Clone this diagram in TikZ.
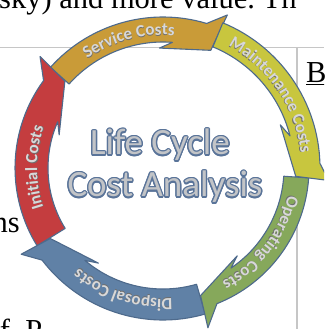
\documentclass[tikz,border=0pt]{standalone}
\usepackage{fontspec}
\setmainfont{Liberation Serif}
\setsansfont{Carlito}
\usetikzlibrary{decorations.text}

\definecolor{servicegold}{HTML}{C99B38}
\definecolor{maintyellow}{HTML}{C8C63E}
\definecolor{opgreen}{HTML}{86A85B}
\definecolor{disposalblue}{HTML}{6081A6}
\definecolor{initialred}{HTML}{C43D3F}
\definecolor{rimblue}{HTML}{4E6A8C}
\definecolor{labelgray}{HTML}{D8D8D8}
\definecolor{labelshade}{HTML}{6E6E6E}
\definecolor{titlegray}{HTML}{C2C4C7}
\definecolor{titleblue}{HTML}{5A7499}
\definecolor{rulegray}{HTML}{C6C6C6}

\newcommand{\labelfont}{\sffamily\bfseries\fontsize{17}{17}\selectfont}

% one curved arrow: colour, tail angle, tip angle, outer radius, inner radius, head corner radius
\newcommand{\costarrow}[6]{%
  \filldraw[costband, fill=#1] (#2:#4)
    arc[start angle=#2, end angle={#3+6}, radius=#4]
    -- (#3:166) -- ({#3+0.7}:#6) -- ({#3+24.5}:{#5-6}) -- ({#3+18.5}:#5)
    arc[start angle={#3+18.5}, end angle=#2, radius=#5] -- cycle;}

% label bent along an arrow, with a soft shade under it: middle angle, baseline radius, text
\newcommand{\costlabel}[3]{%
  \path[decorate, decoration={text along path, text align=center, raise=-0.9pt,
      text={|\labelfont\color{labelshade}|#3}}]
    ({#1+60}:#2) arc[start angle={#1+60}, end angle={#1-60}, radius=#2];
  \path[decorate, decoration={text along path, text align=center,
      text={|\labelfont\color{labelgray}|#3}}]
    ({#1+60}:#2) arc[start angle={#1+60}, end angle={#1-60}, radius=#2];}

\begin{document}
\begin{tikzpicture}[x=1pt, y=1pt,
    costband/.style={draw=rimblue, line width=1.1pt, line join=round},
    titletext/.style={anchor=base, inner sep=0pt, font=\sffamily\fontsize{37}{37}\selectfont},
    pagetext/.style={inner sep=0pt, font=\fontsize{30.5}{30.5}\selectfont}]
    \useasboundingbox (0,0) rectangle (324,329);
    \clip (0,0) rectangle (324,329);

    % Page text and table rules behind the cycle
    \node[pagetext, anchor=base west] (topline) at (-1,320.5) {sky) and more value.\ Th};
    \node[pagetext, anchor=base east] (leftword) at (20,96) {ns};
    \node[pagetext, anchor=base west] (rightword) at (306,246) {\underline{B}};
    \node[pagetext, anchor=base west] (bottomline) at (-15.5,-12) {of\ \ P};
    \draw[rulegray, line width=1pt] (0,281.5) -- (324,281.5);
    \draw[rulegray, line width=1.3pt] (297,281.5) -- (297,0);

    % Arrows of the cycle, clockwise
    \begin{scope}[shift={(163,161)}]
        \costarrow{servicegold}{138.2}{67.2}{151}{126}{127}
        \costarrow{initialred}{-148.3}{-222.2}{148}{115}{131}
        \costarrow{disposalblue}{-73.9}{-148.7}{152}{121}{133}
        \costarrow{opgreen}{-3.9}{-74.3}{146}{121}{133}
        \costarrow{maintyellow}{67.6}{-4.3}{157}{131}{133}

        \costlabel{104.9}{133}{Service Costs}
        \costlabel{34}{138.5}{Maintenance Costs}
        \costlabel{-37.4}{128}{Operating Costs}
        \costlabel{-108}{131}{Disposal Costs}
        \costlabel{179.7}{126}{Initial Costs}
    \end{scope}

    % Title in the middle, outlined
    \foreach \a in {0,30,...,330} {
        \node[titletext, text=titleblue] at ([shift={(\a:1.4)}]160,174) {Life Cycle};
        \node[titletext, text=titleblue] at ([shift={(\a:1.4)}]165,132) {Cost Analysis};
    }
    \node[titletext, text=titlegray] (lifecycle) at (160,174) {Life Cycle};
    \node[titletext, text=titlegray] (costanalysis) at (165,132) {Cost Analysis};
\end{tikzpicture}
\end{document}
